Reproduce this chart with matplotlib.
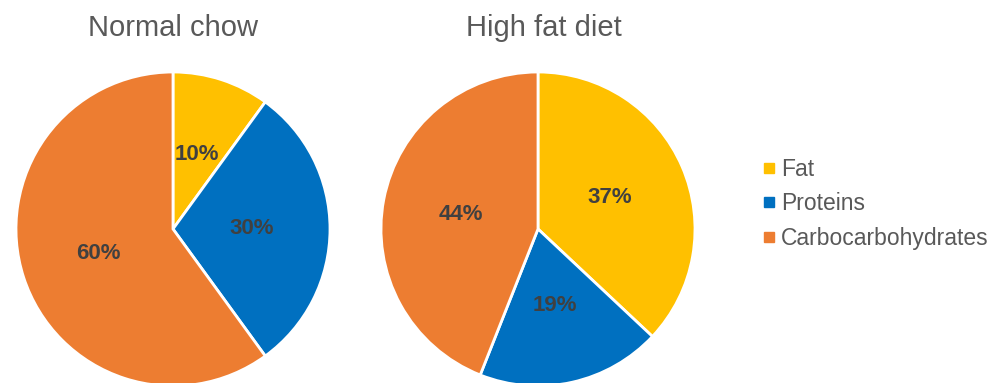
import matplotlib.pyplot as plt
from matplotlib.lines import Line2D

categories = ["Fat", "Proteins", "Carbocarbohydrates"]
normal_chow = [10, 30, 60]
high_fat = [37, 19, 44]
titles = ["Normal chow", "High fat diet"]
colors = ["#FFC000", "#0070C0", "#ED7D31"]

plt.rcParams['font.family'] = ['Liberation Sans', 'DejaVu Sans']

W, H = 998, 383
fig = plt.figure(figsize=(W / 100, H / 100), dpi=100)

# pie centres and radius in pixels
centres = [(173, 229), (538, 229)]
title_x = [173, 544]
r = 157

for (cx, cy), tx, vals, title in zip(centres, title_x, [normal_chow, high_fat], titles):
    ax = fig.add_axes([(cx - r) / W, (H - cy - r) / H, 2 * r / W, 2 * r / H])
    wedges, texts, autotexts = ax.pie(
        vals, colors=colors, startangle=90, counterclock=False,
        autopct='%1.0f%%', pctdistance=0.5,
        wedgeprops=dict(edgecolor='white', linewidth=2))
    for t in autotexts:
        t.set_fontsize(16)
        t.set_fontweight('bold')
        t.set_color('#404040')
    ax.set_xlim(-1, 1)
    ax.set_ylim(-1, 1)
    ax.set_aspect('equal')
    ax.axis('off')
    fig.text(tx / W, (H - 28) / H, title, ha='center', va='center',
             fontsize=21, color='#595959')

handles = [Line2D([], [], marker='s', linestyle='none', markersize=7,
                  markerfacecolor=c, markeredgecolor=c) for c in colors]
fig.legend(handles, categories, loc='center left',
           bbox_to_anchor=(750 / W, (H - 204) / H), frameon=False,
           fontsize=16.5, labelcolor='#595959', handlelength=0.7,
           handletextpad=0.15, labelspacing=0.5, borderpad=0)

fig.savefig('out.png', dpi=100)
